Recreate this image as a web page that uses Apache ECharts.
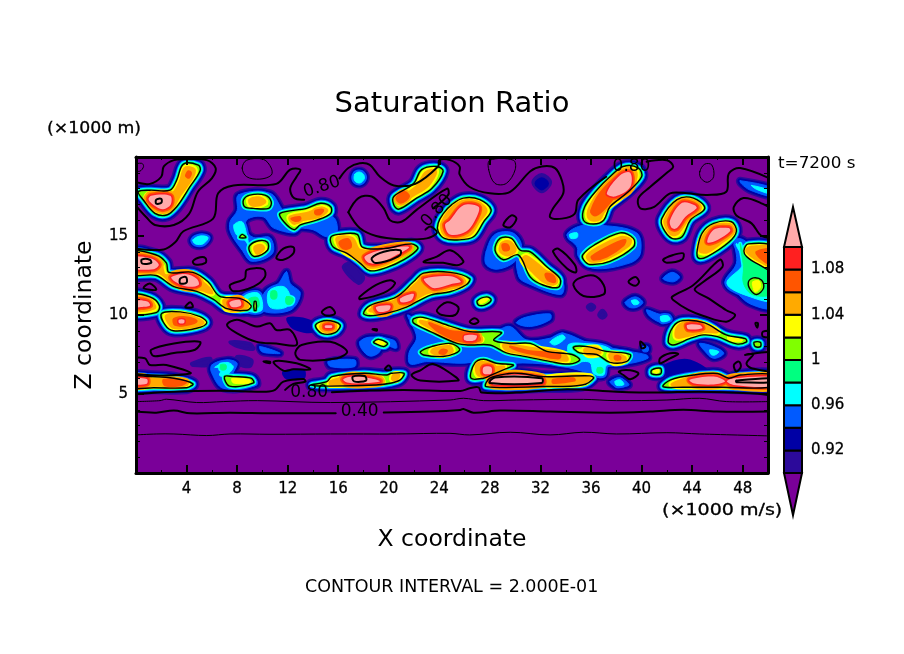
<!DOCTYPE html>
<html>
<head>
<meta charset="utf-8">
<title>Saturation Ratio</title>
<style>html,body{margin:0;padding:0;background:#fff}#chart{width:904px;height:654px}</style>
<script src="https://cdn.jsdelivr.net/npm/echarts@6/dist/echarts.min.js"></script>
</head>
<body>
<div id="chart"></div>
<script>
// all shapes are [x (km), z (km)]

var xTicks = [4, 8, 12, 16, 20, 24, 28, 32, 36, 40, 44, 48];
var zTicks = [5, 10, 15];
var barTicks = [0.92, 0.96, 1, 1.04, 1.08];
var barEdges = [0.90, 0.92, 0.94, 0.96, 0.98, 1.00, 1.02, 1.04, 1.06, 1.08, 1.10];
var barColors = ['#2c0a9a', '#0000a5', '#005aff', '#00ffff', '#00ff80', '#80ff00', '#ffff00', '#ffaa00', '#ff5500', '#ff2020'];

var contourLabelText = ['0.80', '0.80', '0.80', '0.80', '0.40'];
var contourLabelAt = [[14.7, 18.1], [39.2, 19.4], [23.8, 16.6], [13.7, 5.1], [17.7, 3.86]];

// S = 1.0 contour
var contour100 = [
  [[3.75,19.55],[4.93,19.49],[5.07,19.13],[4.27,18.12],[3.22,16.85],[2.43,16.33],[1.5,16.43],[.58,17.28],[.18,17.8],[1.1,17.9],[2.69,17.9],[3.22,18.54]],
  [[8.5,17.28],[9,17.59],[10.2,17.59],[10.7,17.17],[10.5,16.75],[9.3,16.75],[8.6,16.85]],
  [[11.4,16.43],[13.5,16.75],[14.6,17.07],[15.4,16.85],[15.4,16.43],[14.3,16],[13,15.7],[12.5,15.4],[11.7,15.9]],
  [[9,14.4],[9.7,14.7],[10.4,14.6],[10.4,14.1],[9.4,13.7],[9,14]],
  [[8.2,14.9],[8.4,15.1],[8.7,14.9]],
  [[15.4,14.9],[16,15.1],[17.5,15.1],[17.9,14.3],[19.6,14.2],[21.8,14.5],[22.3,14.2],[21.2,13.5],[19.8,13],[18.5,12.8],[17.7,13.3],[16.7,13.9],[15.6,14.3]],
  [[20.4,16.96],[20.4,17.5],[21.95,18.3],[22.6,19.2],[23.8,19.4],[24.3,19.1],[23.4,18],[22.2,17.4],[20.8,16.7]],
  [[-.5,14],[1.6,13.8],[2.4,13.3],[2.6,12.7],[4.5,12.7],[5.7,12.1],[6.6,11.2],[8.2,11.05],[9.1,10.6],[8.8,10.3],[7.2,10.4],[6.1,11],[4.8,11.5],[3,11.8],[1.6,12.5],[-.5,12.6]],
  [[9.35,10.85],[9.5,10.85],[9.5,10.3],[9.35,10.3]],
  [[-.5,11.25],[1.1,11.15],[1.85,10.6],[1.6,10.15],[-.5,10.15]],
  [[2.03,10.1],[3.5,10.2],[5.07,9.9],[5.6,9.5],[4.8,9.16],[2.96,9],[2.3,9.37]],
  [[14.2,9.37],[15.1,9.65],[16.15,9.37],[15.75,8.89],[14.7,8.84]],
  [[18.8,8.3],[19.2,8.46],[19.9,8.21],[19.6,8],[18.9,8.2]],
  [[21.95,9.75],[22.7,9.85],[24.85,9.3],[26.4,8.95],[28.9,8.9],[28.3,8.4],[29.7,8.2],[31.2,8.2],[32.5,7.7],[34.5,7.5],[35.1,7.15],[34.3,6.9],[32.8,7.05],[30.6,7.4],[29.3,7.6],[28,8.1],[26.4,8.1],[25.4,8.2],[23.3,8.95],[21.95,9.5]],
  [[34.6,7.96],[35.7,8],[37.2,7.7],[39.1,7.5],[38.8,7.05],[37.5,7],[36.45,7.5],[35.1,7.6]],
  [[26.5,6],[26.8,6.95],[27.5,7.2],[28.5,6.95],[29.85,6.84],[29.3,6.6],[28.1,6.2],[27.5,6]],
  [[27.7,5.47],[28,6],[29.5,6.3],[30.5,6.3],[32.2,6.1],[35.9,6.15],[36.2,6],[35.3,5.57],[32.2,5.47]],
  [[42.1,8.3],[42.5,9.27],[43.3,9.65],[45,9.5],[46.7,8.74],[48.2,8.5],[48.3,8.3],[47.5,8.17],[46,8.63],[44.9,8.74],[43.8,8.5],[42.5,8.1]],
  [[48.9,8.27],[49.4,8.27],[49.4,8],[49,8]],
  [[41.7,5.47],[42.3,5.9],[44.1,6.2],[46,6.3],[46.9,6],[47.8,6.2],[50.5,6.2],[50.5,5.47],[46.2,5.43],[43.3,5.43]],
  [[-.5,6.1],[1.1,6.1],[3,6],[4.5,5.65],[4,5.4],[1.4,5.4],[-.5,5.4]],
  [[7,6.1],[7.7,6.1],[9.1,6],[9.3,5.7],[7.4,5.5]],
  [[13.9,5.57],[15.1,5.78],[15.5,6.1],[18,6.31],[19.85,6.2],[20.2,6.31],[21.2,6.31],[20.9,5.89],[20.1,5.68],[19,5.57],[15.4,5.5]],
  [[23.9,15.8],[24.3,16.4],[25,17],[25.9,17.4],[27.2,17.3],[28.1,16.65],[27.5,15.9],[26.7,14.95],[25.4,14.75],[24.4,14.85],[23.9,15.3]],
  [[18,10.1],[18.5,10.6],[20.6,11.15],[21.95,12.1],[22.75,12.65],[24.85,12.7],[26.4,12.3],[26.1,11.9],[24.84,11.47],[23.3,11.26],[21.4,10.5],[19.8,10.1],[18.5,9.95]],
  [[28.4,14.1],[28.8,14.85],[29.7,14.85],[30.4,14.1],[31.2,14],[32.5,13.05],[33.55,12.3],[33.4,11.75],[32.2,11.9],[31.2,12.4],[30.25,13.8],[29.06,13.5]],
  [[35.4,16],[35.5,16.85],[36.45,17.9],[37.5,18.75],[38.55,19.4],[39.75,19.3],[40,18.75],[38.8,17.7],[37.5,16.85],[37,16],[36.2,15.76]],
  [[35.34,13.8],[36.2,14.4],[38.3,15.2],[39.35,14.85],[39.35,14.3],[37.5,13.4],[35.9,13.2],[35.4,13.5]],
  [[41.6,16.1],[42.8,17.3],[44.1,17.4],[45,16.75],[43.85,16],[43.2,14.95],[42.4,14.85],[41.7,15.5]],
  [[44.4,14.1],[44.8,15.2],[45.7,15.8],[47.1,15.9],[47.5,15.3],[46.9,14.6],[45.2,13.7],[44.5,13.6]],
  [[48.1,14.1],[48.45,14.5],[50.5,14.3],[50.5,12.8],[49.25,13.2],[48.3,13.7]],
  [[48.45,12.1],[48.85,12.35],[49.5,12.2],[49.65,11.7],[49.1,11.3],[48.6,11.6]],
  [[22.5,7.68],[23.4,8],[24.85,8.2],[25.6,7.85],[25.2,7.55],[24.3,7.37],[22.75,7.47]],
  [[27,10.9],[27.74,11.15],[28.1,10.95],[27.6,10.63],[27.1,10.63]],
  [[40.8,6.52],[41.5,6.63],[41.5,6.27],[40.8,6.27]]
];

var core102 = [
  [[18.95,8.3],[19.3,8.38],[19.7,8.2],[19.4,8.1]],
  [[7.6,6],[9,5.9],[9,5.7],[7.7,5.7]],
  [[27.2,10.95],[27.9,11.05],[27.6,10.8],[27.2,10.74]],
  [[48.8,12.1],[49.3,12.15],[49.4,11.75],[49,11.45],[48.8,11.8]],
  [[40.95,6.5],[41.35,6.55],[41.35,6.35],[40.95,6.35]],
  [[9,16.95],[10.2,17.2],[10.4,17],[9.5,16.85]],
  [[46.8,8.6],[48,8.42],[47.8,8.3],[46.9,8.4]],
  [[34.9,7.8],[35.4,7.85],[35.2,7.7]],
  [[9.2,14.2],[9.8,14.55],[10.2,14.4],[9.4,13.85]]
];

var core104 = [
  [[3.88,19.28],[4.6,19.2],[4.41,18.65],[3.48,17.6],[2.82,16.75],[2.16,16.6],[1.5,16.75],[.84,17.38],[1.11,17.65],[2.82,17.65],[3.48,18.4]],
  [[9,17.28],[9.7,17.42],[10.2,17.17],[9.7,16.96],[9.1,17]],
  [[12.2,16.2],[13.5,16.43],[14.7,16.75],[15.1,16.6],[14.3,16.2],[13,16],[12.5,15.8]],
  [[9.4,14.3],[9.9,14.4],[10.1,14.2],[9.6,13.9]],
  [[15.9,14.85],[17.1,14.85],[17.7,14.1],[19.8,14.1],[21.7,14.3],[20.6,13.6],[19.6,13.2],[18.5,13.05],[17.5,13.6],[16.4,14.1]],
  [[20.8,17.3],[22.3,18.2],[22.9,19],[23.7,19.1],[23.1,18.2],[21.95,17.6],[20.9,17.1]],
  [[-.5,13.7],[1.4,13.6],[2,13.1],[2.3,12.5],[4.4,12.5],[5.5,11.9],[6,11.4],[5.2,11.6],[3,12],[1.8,12.7],[-.5,12.85]],
  [[7,10.95],[8.6,10.85],[8.8,10.5],[7.2,10.4]],
  [[-.5,11],[1,10.9],[1.5,10.5],[1,10.35],[-.5,10.35]],
  [[2.4,9.94],[3.5,10.07],[4.9,9.73],[5.3,9.5],[4.5,9.27],[3,9.2],[2.6,9.5]],
  [[14.6,9.3],[15.2,9.5],[15.8,9.3],[15.5,9.05],[14.8,9.05]],
  [[22.5,9.6],[24.8,9.1],[26.5,8.75],[27.3,8.45],[26.2,8.3],[25,8.55],[23.5,9.1]],
  [[29.1,8.1],[31.2,7.9],[33.8,7.55],[34.1,7.15],[32.8,7.26],[30.6,7.6],[29.3,7.8]],
  [[35.5,7.8],[36.45,7.9],[36.7,7.6],[35.8,7.5]],
  [[37.5,7.5],[38.6,7.35],[38.7,7.15],[37.8,7]],
  [[26.95,6.84],[27.5,7],[28.3,6.7],[29.1,6.7],[27.9,6.3],[27.1,6.2]],
  [[32.5,6],[35.9,6.1],[35.4,5.7],[33,5.6],[32.4,5.6]],
  [[42.8,8.6],[42.8,9.16],[43.4,9.5],[44.8,9.4],[46,8.95],[44.9,8.95],[43.8,8.74]],
  [[42.4,5.6],[43.8,6],[46,6.16],[46.75,5.8],[50.5,6],[50.5,5.57],[46.5,5.5],[43.8,5.5]],
  [[-.5,5.95],[1,5.95],[3,5.85],[4,5.6],[1.4,5.55],[-.5,5.5]],
  [[15.4,5.78],[16.4,6],[18,6.1],[19.3,6],[19.45,5.72],[17.5,5.68],[15.4,5.6]],
  [[20.4,6.2],[20.8,6.2],[20.6,5.93],[20.3,5.93]],
  [[24.2,15.7],[24.8,16.6],[25.9,17.2],[27,17.1],[27.7,16.6],[27.1,15.9],[26.4,15.1],[25.2,14.95],[24.4,15.1]],
  [[18.5,10.3],[20.6,10.95],[22.2,12],[22.8,12.45],[24.85,12.5],[26,12.15],[25.8,11.9],[24.84,11.7],[23,11.4],[21.2,10.6],[19.8,10.3]],
  [[28.8,14.1],[29.1,14.6],[29.6,14.6],[30,14.1],[29.4,13.8]],
  [[30.9,13.7],[32.2,12.9],[33.2,12.2],[33,11.95],[32.2,12.15],[31.2,12.9],[30.6,13.5]],
  [[35.8,16.2],[35.9,16.8],[36.8,17.9],[37.8,18.7],[38.7,19.2],[39.5,19.1],[39.5,18.6],[38.5,17.6],[37.1,16.7],[36.7,16.1],[36.2,16]],
  [[35.7,13.7],[36.45,14.2],[38.3,14.9],[39.1,14.75],[38.95,14.4],[37.5,13.7],[36.05,13.4]],
  [[41.85,16],[42.9,17.2],[44,17.2],[44.6,16.75],[43.6,16.1],[42.9,15.2],[42.4,15.1],[42,15.5]],
  [[44.6,14.1],[45,15.1],[45.8,15.6],[47,15.7],[47.2,15.3],[46.6,14.8],[45.2,14]],
  [[48.3,14.1],[48.7,14.3],[50.5,14.2],[50.5,13.05],[49.4,13.4],[48.6,13.8]],
  [[23.6,7.85],[24.8,8],[25,7.7],[24.2,7.5],[23.4,7.65]]
];

var core106 = [
  [[4.15,19.1],[4.35,19],[4.2,18.7],[3.95,18.8]],
  [[12.3,16.1],[12.95,16.2],[13,16.05],[12.6,15.95]],
  [[14.2,16.6],[14.8,16.65],[14.6,16.4],[14.2,16.4]],
  [[16.1,14.6],[16.8,14.8],[17,14.3],[16.4,14.2]],
  [[20.6,17.4],[21.2,17.8],[21.6,17.5],[20.95,17.1]],
  [[3,9.75],[4.1,9.85],[4.8,9.6],[4,9.37],[3.1,9.37]],
  [[23.2,9.5],[24.8,9],[26.9,8.8],[27.2,8.4],[25.6,8.35],[24,8.9]],
  [[29.6,8],[31.2,7.7],[33.5,7.55],[33.5,7.26],[32.2,7.4],[30.4,7.7]],
  [[33,5.9],[34.6,6],[34.7,5.85],[33,5.7]],
  [[2.2,5.9],[4,5.8],[3.5,5.55],[2.3,5.55]],
  [[32.4,12.6],[33,12.5],[33.15,12.1],[32.6,12.2]],
  [[36,16.6],[37,18],[38.8,19.1],[39.3,18.7],[38,17.6],[36.9,16.6],[36.3,16.3]],
  [[36.05,13.7],[37.8,14.5],[38.7,14.75],[38.55,14.4],[37.25,13.7],[36.2,13.5]],
  [[49.1,14],[50.5,14.1],[50.5,13.1],[49.4,13.6]],
  [[24.2,7.8],[24.6,7.75],[24.4,7.55],[24,7.6]],
  [[37.9,7.4],[38.3,7.35],[38.3,7.2],[37.9,7.2]],
  [[29,14.45],[29.4,14.45],[29.5,14.15],[29.1,14.1]]
];

var pink110 = [
  [[1.2,17.55],[2.7,17.55],[2.75,17],[2.16,16.7],[1.6,16.85],[1,17.3]],
  [[18.1,13.7],[19.6,14.15],[21.6,14.3],[20.4,13.7],[19.2,13.3],[18.4,13.3]],
  [[-.5,13.65],[1.1,13.6],[1.8,13.2],[1.4,12.9],[-.5,13]],
  [[2.8,12.4],[3.9,12.6],[4.8,12.3],[4.95,11.9],[4,11.8],[3.1,12.1]],
  [[7.4,10.8],[8.2,10.95],[8.3,10.6],[7.6,10.5]],
  [[0,10.9],[.9,10.85],[1.1,10.6],[.4,10.5],[0,10.5]],
  [[3.4,9.7],[3.8,9.7],[3.8,9.5],[3.4,9.5]],
  [[14.96,9.33],[15.5,9.33],[15.5,9.2],[14.96,9.2]],
  [[26,8.7],[26.95,8.7],[26.8,8.4],[26,8.4]],
  [[27.5,6.7],[28.1,6.7],[28.1,6.3],[27.5,6.3]],
  [[28.1,5.95],[29.5,6.2],[30.5,6.2],[32.1,6],[32.2,5.7],[28.3,5.6]],
  [[43.6,9.37],[44.6,9.37],[44.8,9.16],[43.7,9.1]],
  [[43.8,5.9],[45.7,6.1],[46.6,5.8],[45.7,5.6],[44.1,5.68]],
  [[46.75,5.8],[47.3,6],[50.5,6.04],[50.5,5.5],[47.3,5.57]],
  [[-.5,5.95],[.85,5.95],[.85,5.65],[-.5,5.65]],
  [[16.4,5.93],[17.2,6.1],[18.5,6],[19.3,5.8],[18,5.68],[16.7,5.72]],
  [[24.84,16],[25.9,16.95],[27.1,16.85],[26.95,16.2],[26.15,15.3],[24.84,15.1],[24.45,15.7]],
  [[22.8,12.3],[24.9,12.45],[25.7,12.1],[24.9,11.95],[23.6,11.7],[23,12]],
  [[20.9,11.05],[21.95,11.35],[21.8,10.95],[21,10.8]],
  [[19,10.5],[20.1,10.6],[20,10.3],[19.2,10.2]],
  [[37.25,17.7],[38.3,18.85],[39.1,19],[39.1,18.1],[37.9,17.5]],
  [[42.25,16],[43.2,17.1],[44.2,16.95],[44.35,16.75],[43.45,16.2],[42.8,15.5],[42.4,15.5]],
  [[45.2,14.6],[45.7,15.4],[46.9,15.5],[47,15.3],[46,14.75]]
];

// S = 1.2 contour, inside the pink cores
var contour120 = [
  [[18.65,13.6],[19.6,14],[20.9,14.1],[20.9,13.8],[19.8,13.4],[18.9,13.3]],
  [[.45,13.5],[1.1,13.5],[1.2,13.3],[.5,13.25]],
  [[3.5,12.3],[3.95,12.4],[4,12.05],[3.5,12]],
  [[28,5.7],[28.4,6.05],[32.1,6],[32.1,5.7]],
  [[47.5,5.85],[50.5,6],[50.5,5.75],[47.5,5.75]],
  [[17.15,6.1],[18.1,6.14],[18.2,5.85],[17.25,5.8]],
  [[1.6,17.3],[2,17.35],[2,17.1],[1.6,17.05]]
];

var haze092 = [
  [[7.44,8.3],[9,8.2],[9.3,7.83],[8,8]],
  [[4.4,6.94],[5.86,7.26],[5.86,6.84],[4.5,6.8]],
  [[8,7.37],[9.15,7.16],[9,6.73],[8,6.94]],
  [[36,10.7],[36.3,10.5],[36,10.3],[35.7,10.5]],
  [[36.9,10.3],[37.2,10],[36.9,9.8],[36.6,10]],
  [[17,13.3],[18,12.4],[17.6,12],[16.4,13]],
  [[31.4,18.4],[32.1,18.9],[32.8,18.4],[32.1,17.8]]
];

var haze093 = [
  [[12,9.8],[13.9,9.6],[14,8.95],[12.45,9.16]],
  [[11.66,6.4],[13.25,6.5],[13.25,6],[11.9,6]],
  [[41.7,6.73],[43.6,7.16],[45.2,6.42],[43.3,6.3],[42,6.2]],
  [[31.6,18.33],[32.1,18.65],[32.6,18.33],[32.1,17.95]]
];

var haze094 = [
  [[8.1,17.6],[10.6,17.7],[11.5,16.75],[12.7,15.27],[10.9,15.5],[10.1,16.2],[8.9,16.1],[8.6,15.5],[9.3,14.9],[10.6,14.9],[10.8,13.9],[9.15,13.4],[8.4,14.1],[7.5,15.2],[7.44,15.9],[8,16.6]],
  [[12.2,15.6],[14.3,15.9],[15.6,16.2],[15.9,15.27],[15.1,14.95],[14,15.4]],
  [[11.9,12.74],[12.2,12],[13,11.37],[12.2,10.3],[9.95,10.3],[10.2,11.47],[11.27,12]],
  [[6,6.84],[7.2,7.16],[8,6.94],[7.7,6.2],[9.3,6.1],[9.55,5.57],[6.9,5.36],[6,6.31]],
  [[17.7,8.3],[18.5,8.6],[20.4,8.4],[20.6,7.9],[19.6,8.1],[19.2,7.6],[18.5,7.4],[17.9,7.8]],
  [[9.8,8],[11.4,7.58],[10.6,7.58],[9.95,7.68]],
  [[15.2,7.05],[17.3,7.16],[17.3,6.73],[15.4,6.73]],
  [[27.7,14],[28.4,15.1],[29.8,15.2],[30.5,14.4],[30,13.4],[28.6,12.9],[27.7,13.2]],
  [[30.25,13.7],[30.3,12.4],[31,12],[33.6,11.3],[33.8,12],[32.5,13]],
  [[34.1,15.06],[35,15.6],[36.45,15.7],[39.6,15.2],[39.9,13.9],[39.1,13.3],[36.2,12.95],[35,13.7],[34.9,14.3]],
  [[47.4,14.75],[47.5,13.27],[46.6,12.1],[47.3,11.6],[48.6,10.7],[50.5,10.5],[50.5,13.05],[48.06,14.75]],
  [[47.8,18.5],[50.5,18],[50.5,17.5],[48.6,17.9],[47.9,18.3]],
  [[21.5,10],[22.2,8.6],[21.6,7.6],[21.7,6.9],[23,7.05],[26.5,7],[28,7.7],[26.5,8],[25,8.5],[23.2,9]],
  [[25.5,7.47],[26.4,8.1],[28.5,8.95],[29.6,9.27],[30.9,8.42],[32.76,8.53],[33.8,8.84],[35.9,8.21],[39.1,7.68],[40.4,7.47],[40.5,7.26],[39.1,6.94],[37.2,6.84],[37,6.1],[36.2,6.1],[35.4,6.42],[33,6.84],[29.85,6.94],[29.85,6.63],[27.2,7.26],[25.9,7.16]],
  [[30.1,9.5],[30.8,9.85],[32.76,10.07],[32.76,9.7],[31.2,9.27]],
  [[40.4,10.32],[41.2,10.1],[42.4,9.8],[41.7,9.5],[40.67,9.9]],
  [[38.7,10.8],[39.5,11.15],[40.1,10.8],[39.6,10.48],[39,10.5]],
  [[41.7,12.3],[42.4,12.7],[43,12.4],[42.5,12.1]],
  [[44.6,8.2],[45.7,8],[46.5,7.58],[45.7,7.26],[44.9,7.8]],
  [[37.5,5.78],[38.3,6],[39,5.57],[38,5.47]],
  [[40.1,8],[40.5,8],[40.5,7.7],[40.1,7.7]]
];

var haze097 = [
  [[17.3,18.9],[17.65,19.05],[18,18.9],[18.05,18.6],[17.7,18.35],[17.3,18.5]],
  [[4.5,14.75],[5.07,15],[5.7,14.9],[5.3,14.5],[4.7,14.5]],
  [[7.75,15.7],[8.4,15.9],[8.76,15.06],[8.9,14.4],[8.6,14.75],[7.97,15.06]],
  [[10.5,11.5],[11.66,11.8],[12.2,11.16],[11.9,10.5],[10.6,10.5]],
  [[8.5,11.15],[9.7,11.37],[9.95,10.3],[8.76,10.3]],
  [[6.25,6.7],[7.2,7],[7.7,6.7],[7,6.1],[6.6,6.2],[6.8,6.6]],
  [[32.76,8.3],[33.7,8.74],[33.95,8.53],[33.15,8.1]],
  [[34.2,8.1],[35.4,8.2],[37.4,7.9],[38,7],[37.2,6.8],[37,6.2],[36.2,6.3],[35.9,7],[34.5,7.1]],
  [[41.5,9.9],[42.1,9.94],[42.25,9.7],[41.6,9.58]],
  [[39.2,10.9],[39.6,10.95],[39.8,10.75],[39.4,10.65]],
  [[45.4,7.79],[46.1,7.68],[45.8,7.47],[45.5,7.5]],
  [[34.3,15.1],[34.9,15.2],[34.9,14.9],[34.4,14.85]],
  [[47.5,14.5],[48.06,13.27],[46.75,12],[48.6,11.15],[50.5,10.95],[50.5,12.85]],
  [[48.7,18.2],[50.5,17.8],[50.5,17.6],[49.1,17.95]],
  [[37.9,5.8],[38.3,5.9],[38.6,5.6],[38,5.55]]
];

var haze099 = [
  [[10.7,11.5],[11.1,11.5],[11.1,11.05],[10.7,11.05]],
  [[11.9,11.16],[12.45,11.05],[12.3,10.7],[11.9,10.7]],
  [[8.9,11],[9.6,11.1],[9.7,10.5],[9,10.5]],
  [[6.7,6.85],[7.1,6.85],[7.1,6.55],[6.7,6.55]],
  [[47.8,14.5],[48.2,13.7],[50.5,12.64],[50.5,11.4],[48.85,11.26],[48.06,12],[48.06,13.05]],
  [[36.5,6.65],[36.9,6.65],[36.9,6.35],[36.5,6.35]]
];

// S = 0.8 contour: open stretches, then closed loops
var lines080 = [
  [[0,18.4],[1.1,18.3],[2,18.75],[2.2,19.4],[3,19.8],[3.9,19.85],[5.6,19.8],[6.3,19.3],[6,18.65],[4.9,17.8],[4.2,16.4],[3,15.7],[1.5,15.7],[.8,16.2],[0,16.9]],
  [[0,14.2],[2.2,14.15],[3.1,14.6],[3.75,15.3],[6.1,16.1],[6.5,17.7],[7.7,18.2],[11.1,18.3],[12.2,19.2],[13,19.2],[12.7,18.75],[12.2,18],[12.5,17.4],[13.3,17.3]],
  [[16.1,18.65],[16.8,19.3],[17.7,19.6],[18.5,19.5],[19.3,18.75],[20.4,18.2],[22.1,18.3],[23.9,19.4],[24,19.8],[24.84,19.8],[25.6,19.4],[25.6,18.9],[26.4,18.1],[28,17.7],[29.6,17.8],[31.2,19.1],[32.1,19.4],[33.15,19.3],[33.7,18.5],[33.8,17.7],[33,16.75],[32.76,16.2],[33.7,16.1],[34.7,16.4],[35,17.3],[37.2,18.75]],
  [[40.4,19.7],[42,19.8],[42.5,19.4],[42,19],[40.67,18.1],[39.75,17.4],[39.9,16.75],[41,16.85],[42.25,17.7],[43.6,17.7],[45.2,17.6],[46.7,17.8],[46.9,18.95],[47.8,19.3],[50.5,18.5]],
  [[0,5],[3,5.15],[6.65,5.2],[10.3,5.15],[11,5.26],[11.66,5.78],[13.25,5.95],[13.4,5.78],[12.45,5.64],[11.8,5.26]],
  [[15.5,5.11],[18,5.2],[21.2,5.26],[25.65,5.19],[26.4,5.36],[27.1,5.42],[27.35,5.09],[30.1,5.09],[34.1,5.3],[38,5.15],[41.2,5.09],[44.6,5.15],[48.6,5.05],[50,4.94]],
  [[16.8,16.5],[17.6,17.4],[18.65,17.5],[19.6,16.75],[20.1,16],[21,15.9],[22.2,16.65],[24.6,18],[24.7,17.6],[23.5,16.75]],
  [[22.9,15.4],[23.3,15.6],[23.8,15.2],[23,14.85],[20.9,14.8],[19,15],[17.7,15.5],[16.8,16.5]]
];

var loops080 = [
  [[11.1,13.6],[11.66,14.2],[12.45,14.3],[12.45,13.9],[11.66,13.5]],
  [[4.5,13.4],[5.07,13.65],[5.5,13.6],[5.5,13.3],[4.67,13.2]],
  [[.6,11.7],[1.1,12],[1.6,11.6]],
  [[3.9,10.5],[4.3,10.8],[4.5,10.5]],
  [[7.44,11.9],[8.6,12.3],[8.76,12.85],[10.08,12.9],[10.2,12.4],[9.3,11.8],[7.7,11.5]],
  [[17.7,11.15],[19,11.9],[20.1,12.2],[20.5,12],[19.6,11.4],[17.7,11]],
  [[22.75,13.35],[23.8,13.7],[24.85,14.1],[25.9,13.4],[25.4,13.15],[24.3,13.3]],
  [[23.8,10.3],[24.6,10.8],[25.5,10.5],[25.25,10],[24.2,10]],
  [[14.7,10.2],[15.36,10.5],[15.75,10.1],[15.1,9.95]],
  [[29.06,15.7],[29.7,16.3],[30.1,16.1],[29.6,15.55]],
  [[33,14],[33.4,14.2],[34.7,13.2],[34.8,12.7],[34.1,12.95]],
  [[41.7,13.5],[42.5,13.8],[43.3,13.9],[43.2,13.5],[42,13.3]],
  [[34.6,11.9],[35,12.3],[36.2,12.5],[37,11.9],[37,11.3],[35.4,11.2]],
  [[38.96,12.1],[39.5,12.4],[39.8,12.1],[39.5,11.85]],
  [[42.4,11.15],[44.1,11.9],[46.2,13.5],[46.4,13.05],[44.9,12.1],[44.2,11.6],[45.3,11.05],[46.7,10.3],[47.4,10],[46.7,9.58],[44.9,9.94],[43.7,10.32],[42.5,10.95]],
  [[47.3,16.85],[48.06,17.4],[49.4,17.1],[50.5,16.5],[50.5,15],[49.5,15],[48.7,15.8],[47.5,16.3]],
  [[1.2,7.8],[3,8.2],[5.07,8.3],[4.67,7.8],[3,7.6],[1.4,7.4]],
  [[7.2,9.37],[8,9.7],[9.55,9.27],[10.6,9.48],[11.1,9.05],[12.2,9.05],[12.7,8.1],[11.1,8.2],[9.55,8.3],[8,8.84]],
  [[12.6,7.6],[13.1,8.1],[15.36,8.3],[16.7,7.7],[15.9,7.26],[13,7.16]],
  [[-.5,7.15],[.7,7.26],[1.1,6.84],[2.4,6.84],[4.3,6.3],[-.5,6.33]],
  [[10.9,7.05],[12.7,6.94],[13.8,6.56],[12.45,6.56],[11.66,6.48]],
  [[10.08,7.05],[10.6,7.05],[10.6,6.95]],
  [[18.7,9.1],[19.05,9.1],[19.05,9]],
  [[21.8,6.2],[22.5,6.5],[23.5,6.9],[25.25,6.1],[25.5,5.85],[22.5,5.85]],
  [[19.7,6.6],[20,6.8],[20.2,6.55],[19.85,6.5]],
  [[26.4,9.58],[26.8,9.8],[27.1,9.58],[26.7,9.43]],
  [[38.2,6.42],[39.1,6.5],[39.75,6.3],[39.1,5.93],[38.56,6.2]],
  [[41.46,7.26],[42.25,7.58],[42.9,7.53],[42.25,7.26],[41.46,6.94]],
  [[39.9,8.32],[40.3,8],[40,7.9]],
  [[48.2,7.47],[48.85,7.53],[48.3,6.94],[48.7,6.63],[50.5,6.5],[50.5,7.6]],
  [[47.3,6.84],[47.7,7.05],[47.85,6.73],[47.5,6.42]],
  [[49.6,8.95],[50.5,8.95],[50.5,8.63],[49.6,8.63]],
  [[49,9.48],[49.2,9.48],[49.15,9.2]]
];

// thin loops near the top
var loopsThin = [
  [[8.4,19.3],[8.76,19.8],[10.08,19.85],[10.7,19.3],[10.7,18.85],[9.8,18.6],[8.76,18.75]],
  [[27.9,19.2],[28,19.8],[29.85,19.8],[30,19.2],[29.3,18.33],[28.4,18.33]],
  [[44.6,19.07],[45,19.55],[45.55,19.5],[45.7,18.75],[45.2,18.4],[44.7,18.65]],
  [[-.2,19.5],[.45,19.6],[.6,19.4],[.3,19.1],[-.2,19.2]]
];

var lines060 = [[[0,4.52],[1.9,4.58],[2.4,4.67],[4.8,4.46],[6.9,4.52],[9.6,4.58],[15.4,4.46],[24.84,4.62],[25.9,4.73],[27.5,4.58],[30.1,4.62],[35.4,4.66],[38,4.58],[42,4.62],[44.6,4.73],[46.7,4.52],[50,4.52]]];
var lines040 = [
  [[0,3.89],[1.6,3.82],[3,3.95],[4.3,3.78],[7.44,3.82],[10.6,3.78],[15.8,3.78]],
  [[19.6,3.83],[23.3,3.89],[25.65,3.99],[25.9,4.05],[26.7,3.82],[28.8,3.95],[32.76,3.89],[37.5,3.82],[40.67,3.89],[43.3,4],[45.95,3.89],[50,3.89]]
];
var lines020 = [[[0,2.41],[1.6,2.47],[3,2.47],[5.6,2.37],[7.44,2.47],[10.6,2.45],[15.4,2.47],[20.6,2.47],[24.84,2.51],[26.4,2.41],[29.6,2.58],[32.76,2.41],[35.4,2.58],[38,2.47],[42,2.55],[44.6,2.47],[50,2.35]]];

var PURPLE = '#7a0099';

var chart = echarts.init(document.getElementById('chart'));
var zLevel = 3;

// one custom series per painted list, stroke widens a shape into the next band
function shapeSeries(list, color, width, fill, closed) {
  zLevel += 1;
  return {
    type: 'custom',
    coordinateSystem: 'cartesian2d',
    xAxisIndex: 0,
    yAxisIndex: 0,
    clip: true,
    silent: true,
    z: zLevel,
    data: list.map(function (s, i) { return [i]; }),
    renderItem: function (params, api) {
      var pts = list[params.dataIndex].map(function (p) { return api.coord(p); });
      return {
        type: closed ? 'polygon' : 'polyline',
        shape: { points: pts, smooth: 0.35 },
        style: {
          fill: fill ? color : 'none',
          stroke: width ? color : 'none',
          lineWidth: width,
          lineJoin: 'round',
          lineCap: 'round'
        }
      };
    }
  };
}

var series = [
  shapeSeries(haze092, barColors[0], 3, true, true),
  shapeSeries(haze094, barColors[0], 8, true, true),
  shapeSeries(haze097, barColors[0], 11, true, true),
  shapeSeries(contour100, barColors[0], 13, true, true),
  shapeSeries(haze093, barColors[1], 2, true, true),
  shapeSeries(haze094, barColors[1], 5, true, true),
  shapeSeries(haze097, barColors[1], 8, true, true),
  shapeSeries(contour100, barColors[1], 10, true, true),
  shapeSeries(haze094, barColors[2], 1, true, true),
  shapeSeries(haze097, barColors[2], 5, true, true),
  shapeSeries(contour100, barColors[2], 7, true, true),
  shapeSeries(haze097, barColors[3], 1, true, true),
  shapeSeries(haze099, barColors[3], 4, true, true),
  shapeSeries(contour100, barColors[3], 5, true, true),
  shapeSeries(haze099, barColors[4], 1, true, true),
  shapeSeries(contour100, barColors[4], 3, true, true),
  shapeSeries(contour100, barColors[5], 0, true, true),
  shapeSeries(core102, barColors[6], 1, true, true),
  shapeSeries(core104, barColors[6], 7, true, true),
  shapeSeries(core104, barColors[7], 3, true, true),
  shapeSeries(core106, barColors[7], 6, true, true),
  shapeSeries(pink110, barColors[7], 10, true, true),
  shapeSeries(core106, barColors[8], 2, true, true),
  shapeSeries(pink110, barColors[8], 6, true, true),
  shapeSeries(pink110, barColors[9], 3, true, true),
  shapeSeries(pink110, '#ffaaaa', 0, true, true),
  shapeSeries(contour100, '#000', 1.4, false, true),
  shapeSeries(contour120, '#000', 2, false, true),
  shapeSeries(lines080, '#000', 2, false, false),
  shapeSeries(loops080, '#000', 2, false, true),
  shapeSeries(loopsThin, '#000', 1, false, true),
  shapeSeries(lines060, '#000', 1, false, false),
  shapeSeries(lines040, '#000', 2, false, false),
  shapeSeries(lines020, '#000', 1, false, false)
];

// labels on the contours
var labelAngles = [18, 0, 48, 0, 0];
series.push({
  type: 'custom',
  coordinateSystem: 'cartesian2d',
  xAxisIndex: 0,
  yAxisIndex: 0,
  silent: true,
  z: 60,
  data: contourLabelAt,
  renderItem: function (params, api) {
    var c = api.coord([api.value(0), api.value(1)]);
    return {
      type: 'text',
      x: c[0],
      y: c[1],
      rotation: labelAngles[params.dataIndex] * Math.PI / 180,
      style: {
        text: contourLabelText[params.dataIndex],
        font: '17px "DejaVu Sans"',
        fill: '#000',
        align: 'center',
        verticalAlign: 'middle'
      }
    };
  }
});

// colour bar, cells and the two end arrows
var barCells = barColors.map(function (c, i) { return [barEdges[i], barEdges[i + 1]]; });
series.push({
  type: 'custom',
  coordinateSystem: 'cartesian2d',
  xAxisIndex: 2,
  yAxisIndex: 2,
  silent: true,
  z: 5,
  data: barCells,
  renderItem: function (params, api) {
    var a = api.coord([0, api.value(0)]);
    var b = api.coord([1, api.value(1)]);
    return {
      type: 'rect',
      shape: { x: a[0], y: b[1], width: b[0] - a[0], height: a[1] - b[1] },
      style: { fill: barColors[params.dataIndex], stroke: '#000', lineWidth: 2 }
    };
  }
});
var barArrows = [[1.10, 1.1354, '#ffaaaa'], [0.90, 0.8627, PURPLE]];
series.push({
  type: 'custom',
  coordinateSystem: 'cartesian2d',
  xAxisIndex: 2,
  yAxisIndex: 2,
  silent: true,
  z: 5,
  data: barArrows.map(function (a) { return [a[0], a[1]]; }),
  renderItem: function (params, api) {
    var base0 = api.coord([0, api.value(0)]);
    var base1 = api.coord([1, api.value(0)]);
    var tip = api.coord([0.5, api.value(1)]);
    return {
      type: 'polygon',
      shape: { points: [base0, base1, tip] },
      style: { fill: barArrows[params.dataIndex][2], stroke: '#000', lineWidth: 2, lineJoin: 'miter' }
    };
  }
});

var thinFont = '"DejaVu Sans ExtraLight", "DejaVu Sans"';
var tickFont = { color: '#000', fontFamily: 'DejaVu Sans', fontSize: 15, textBorderColor: '#000', textBorderWidth: 0.3 };
var noteStyle = { font: '15px "DejaVu Sans"', fill: '#000', stroke: '#000', lineWidth: 0.3 };

chart.setOption({
  backgroundColor: '#fff',
  animation: false,
  title: {
    text: 'Saturation Ratio',
    left: 447,
    top: 85,
    textAlign: 'center',
    textStyle: { color: '#000', fontFamily: thinFont, fontSize: 29, fontWeight: 'normal' }
  },
  grid: [
    { left: 136, top: 157, width: 632, height: 316, show: true, backgroundColor: PURPLE, borderWidth: 0 },
    { left: 136, top: 157, width: 632, height: 316 },
    { left: 784, top: 179.2, width: 18, height: 361.6 }
  ],
  xAxis: [
    {
      gridIndex: 0, type: 'value', min: 0, max: 50, interval: 4, z: 70,
      name: 'X coordinate', nameLocation: 'center', nameGap: 55,
      nameTextStyle: { color: '#000', fontFamily: thinFont, fontSize: 23.5 },
      axisLine: { show: true, onZero: false, lineStyle: { color: '#000', width: 3 } },
      axisTick: { show: true, inside: true, length: 8, lineStyle: { color: '#000', width: 2 } },
      minorTick: { show: true, splitNumber: 2, length: 3, lineStyle: { color: '#000', width: 1 } },
      splitLine: { show: false },
      axisLabel: Object.assign({}, tickFont, {
        margin: 9,
        showMinLabel: false,
        showMaxLabel: false,
        formatter: function (v) { return xTicks.indexOf(v) >= 0 ? String(v) : ''; }
      })
    },
    {
      gridIndex: 1, type: 'value', position: 'top', min: 0, max: 50, interval: 4, z: 70,
      axisLine: { show: true, onZero: false, lineStyle: { color: '#000', width: 3 } },
      axisTick: { show: true, inside: true, length: 8, lineStyle: { color: '#000', width: 2 } },
      minorTick: { show: true, splitNumber: 2, length: 3, lineStyle: { color: '#000', width: 1 } },
      splitLine: { show: false },
      axisLabel: { show: false }
    },
    { gridIndex: 2, type: 'value', min: 0, max: 1, show: false }
  ],
  yAxis: [
    {
      gridIndex: 0, type: 'value', min: 0, max: 20, interval: 5, z: 70,
      name: 'Z coordinate', nameLocation: 'center', nameGap: 39, nameRotate: 90,
      nameTextStyle: { color: '#000', fontFamily: thinFont, fontSize: 23.5 },
      axisLine: { show: true, onZero: false, lineStyle: { color: '#000', width: 3 } },
      axisTick: { show: true, inside: true, length: 8, lineStyle: { color: '#000', width: 2 } },
      minorTick: { show: true, splitNumber: 5, length: 4, lineStyle: { color: '#000', width: 1 } },
      splitLine: { show: false },
      axisLabel: Object.assign({}, tickFont, {
        margin: 8,
        formatter: function (v) { return zTicks.indexOf(v) >= 0 ? String(v) : ''; }
      })
    },
    {
      gridIndex: 1, type: 'value', position: 'right', min: 0, max: 20, interval: 5, z: 70,
      axisLine: { show: true, onZero: false, lineStyle: { color: '#000', width: 3 } },
      axisTick: { show: true, inside: true, length: 8, lineStyle: { color: '#000', width: 2 } },
      minorTick: { show: true, splitNumber: 5, length: 4, lineStyle: { color: '#000', width: 1 } },
      splitLine: { show: false },
      axisLabel: { show: false }
    },
    {
      gridIndex: 2, type: 'value', position: 'right', min: 0.84, max: 1.16, interval: 0.04,
      axisLine: { show: false },
      axisTick: { show: false },
      splitLine: { show: false },
      axisLabel: Object.assign({}, tickFont, {
        margin: 9,
        formatter: function (v) {
          var n = parseFloat(v.toFixed(2));
          return barTicks.indexOf(n) >= 0 ? String(n) : '';
        }
      })
    }
  ],
  graphic: [
    { type: 'text', x: 47, y: 122, scaleX: 1.15, style: Object.assign({ text: '(×1000 m)' }, noteStyle) },
    { type: 'text', x: 662, y: 504, scaleX: 1.27, style: Object.assign({ text: '(×1000 m/s)' }, noteStyle) },
    { type: 'text', x: 778, y: 157, scaleX: 1.12, style: { text: 't=7200 s', font: '15px "DejaVu Sans"', fill: '#000' } },
    { type: 'text', x: 305, y: 578, scaleX: 1, style: { text: 'CONTOUR INTERVAL = 2.000E-01', font: '17.5px "DejaVu Sans"', fill: '#000' } }
  ],
  series: series
});
</script>
</body>
</html>
